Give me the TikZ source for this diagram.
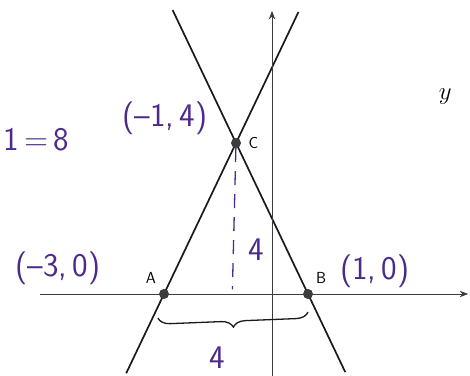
\documentclass[tikz,border=0pt]{standalone}
\usepackage{tikz}
\usepackage{xcolor}
\usetikzlibrary{arrows.meta,positioning,calc,decorations.pathreplacing,backgrounds}
\definecolor{cK}{HTML}{1a1a1a}
\definecolor{cG}{HTML}{3c3c3c}
\definecolor{cP}{HTML}{4b2a8c}
\tikzset{
  dot/.style={circle,fill=cG,inner sep=0pt,minimum size=10pt},
  graphline/.style={line width=1.7pt,cK},
  axis/.style={-{Stealth[length=3mm]},line width=0.8pt,cG},
  hand/.style={cP,font=\sffamily\fontsize{33}{35}\selectfont},
  ptlabel/.style={font=\sffamily\fontsize{16}{18}\selectfont},
  handbrace/.style={decorate,decoration={brace,mirror,amplitude=12pt},line width=1.3pt,cK},
  handdash/.style={cP,line width=1.3pt,dash pattern=on 14pt off 9pt},
}

\begin{document}
\begin{tikzpicture}[x=36pt,y=37.75pt]
  \useasboundingbox (-7.556,-2.172) rectangle (5.5,7.788);
  % axes
  \coordinate (xl) at (-6.44,0);\coordinate (xr) at (5.45,0);
  \coordinate (yb) at (0,-2.172);\coordinate (yt) at (0,7.5);
  \draw[axis] (xl)--(xr);
  \draw[axis] (yb)--(yt);
  % the three points
  \node[dot] (A) at (-3,0){};
  \node[dot] (B) at (1,0){};
  \node[dot] (C) at (-1,4){};
  \node[ptlabel,above left=3pt and 1pt of A]{A};
  \node[ptlabel,above right=3pt and 1pt of B]{B};
  \node[ptlabel,right=4pt of C]{C};
  \begin{scope}[on background layer]
    \draw[graphline] ($(A)!-0.525!(C)$)--($(A)!1.8675!(C)$);
    \draw[graphline] ($(C)!-0.88!(B)$)--($(C)!1.5175!(B)$);
  \end{scope}
  % height and base
  \coordinate (foot) at (-1.1,0.12);
  \draw[handdash] (C)--(foot);
  \coordinate (bl) at (-3.17,-0.64);\coordinate (br) at (1.0,-0.48);
  \draw[handbrace] (bl)--(br);
  \node[hand] (h) at (-0.45,1.17){4};
  \node[hand] (b) at (-1.53,-1.7){4};
  % handwritten coordinates
  \node[hand] (area) at (-6.55,4.08){1\,=\,8};
  \node[hand] (cC) at (-2.97,4.66){(--1,\,4)};
  \node[hand] (cA) at (-5.95,0.69){(--3,\,0)};
  \node[hand] (cB) at (2.86,0.6){(1,\,0)};
  \node (ylab) at (4.81,5.22){\fontsize{30}{32}\selectfont$y$};
\end{tikzpicture}
\end{document}
